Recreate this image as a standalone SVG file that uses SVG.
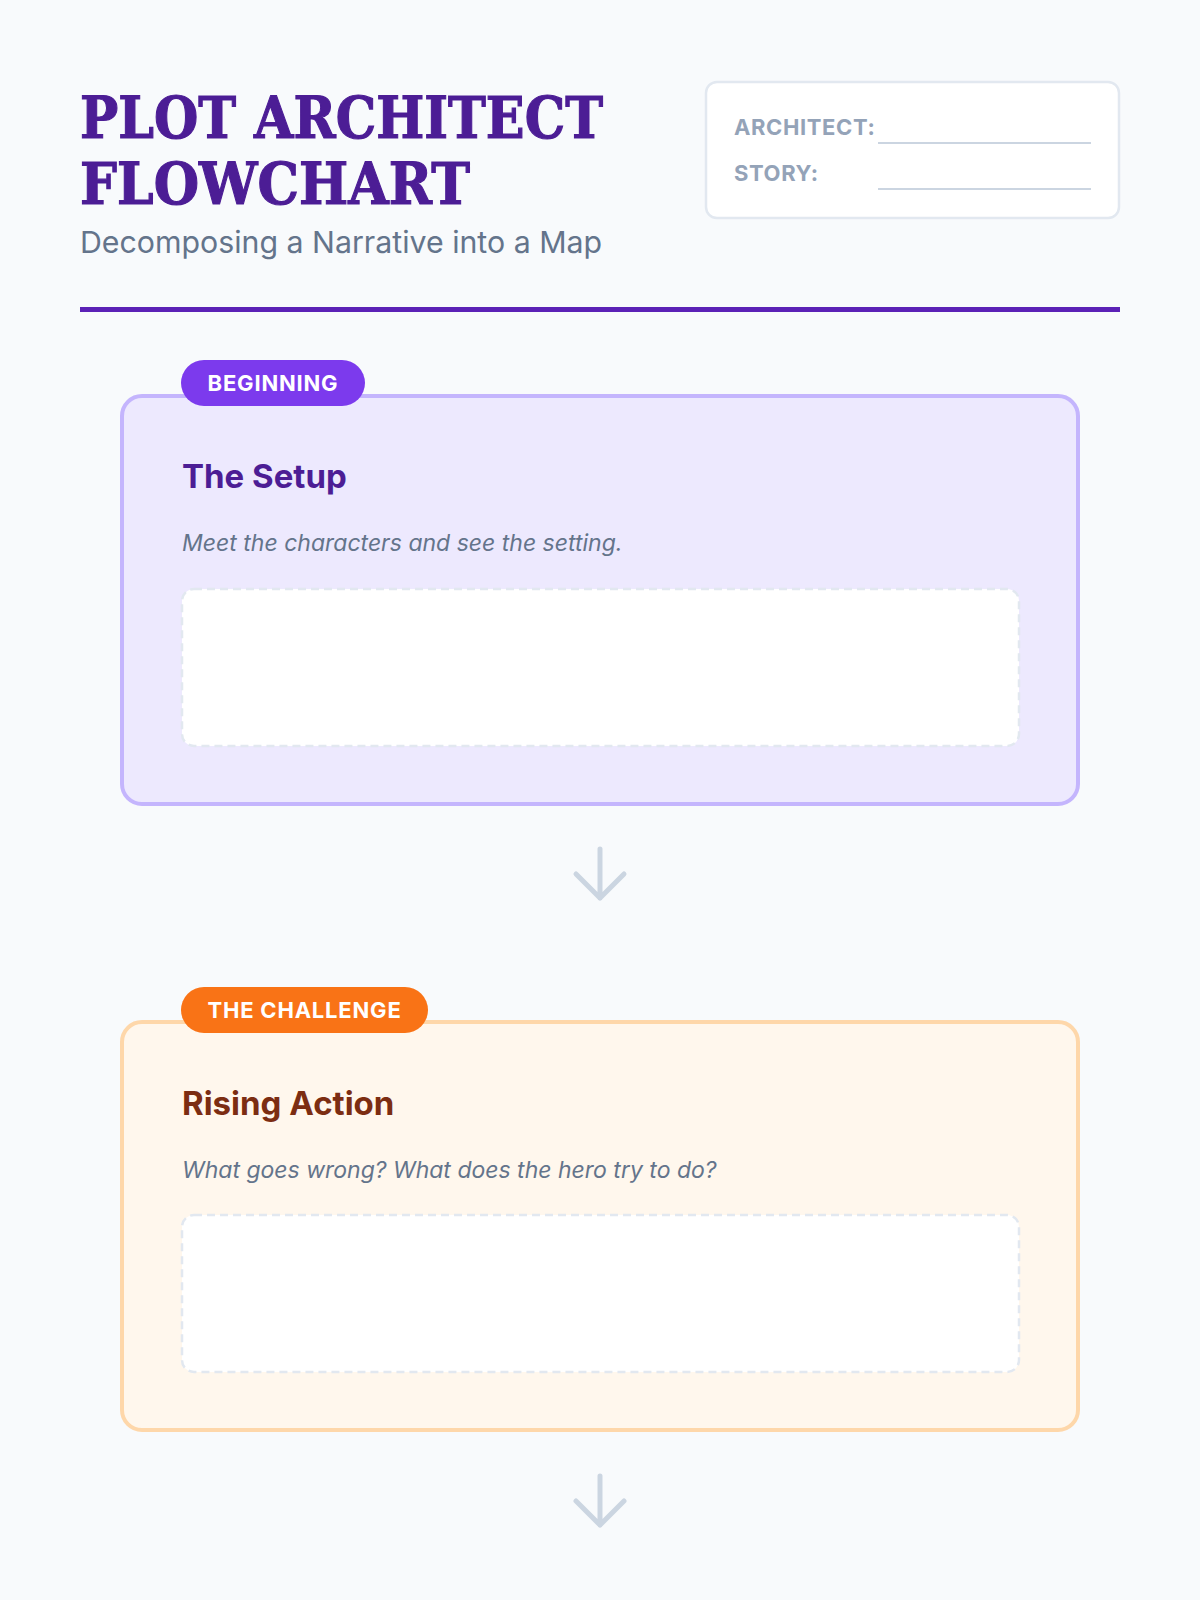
<svg xmlns="http://www.w3.org/2000/svg" width="1200" height="1600" viewBox="0 0 1200 1600">
<style>
.title{font-family:"DejaVu Serif","Liberation Serif",serif;font-weight:bold;font-size:58px;fill:#4c1d95;stroke:#4c1d95;stroke-width:1.2px}
.sub{font-family:Inter,"Noto Sans",sans-serif;font-size:30.3px;fill:#64748b}
.lbl{font-family:Inter,"Noto Sans",sans-serif;font-weight:700;font-size:22px;letter-spacing:0.6px;fill:#94a3b8}
.badge-t{font-family:Inter,"Noto Sans",sans-serif;font-weight:700;font-size:22px;letter-spacing:0.8px;fill:#ffffff}
.head{font-family:Inter,"Noto Sans",sans-serif;font-weight:700;font-size:33px}
.desc{font-family:Inter,"Noto Sans",sans-serif;font-style:italic;font-size:23px;fill:#64748b}
.fill-line{stroke:#cbd5e1;stroke-width:2}
.answer{fill:#ffffff;stroke:#e2e8f0;stroke-width:2.5;stroke-dasharray:8 5}
.arrow{fill:none;stroke:#cbd5e1;stroke-width:5;stroke-linecap:round;stroke-linejoin:round}
</style>
<rect width="1200" height="1600" fill="#f8fafc"/>
<g id="header">
<text class="title" x="80" y="138" textLength="523" lengthAdjust="spacingAndGlyphs">PLOT ARCHITECT</text>
<text class="title" x="80" y="204" textLength="390" lengthAdjust="spacingAndGlyphs">FLOWCHART</text>
<text class="sub" x="80" y="253">Decomposing a Narrative into a Map</text>
<rect x="80" y="307" width="1040" height="5" fill="#5b21b6"/>
</g>
<g id="info-box">
<rect x="706" y="82" width="413" height="136" rx="11" fill="#ffffff" stroke="#e2e8f0" stroke-width="2.5"/>
<text class="lbl" x="734" y="135">ARCHITECT:</text>
<line class="fill-line" x1="878" y1="143" x2="1091" y2="143"/>
<text class="lbl" x="734" y="181">STORY:</text>
<line class="fill-line" x1="878" y1="189" x2="1091" y2="189"/>
</g>
<g id="node-setup">
<rect x="122" y="396" width="956" height="408" rx="20" fill="#ede9fe" stroke="#c4b5fd" stroke-width="4"/>
<rect x="181" y="360" width="184" height="46" rx="23" fill="#7c3aed"/>
<text class="badge-t" x="273" y="391" text-anchor="middle">BEGINNING</text>
<text class="head" x="182" y="488" fill="#4c1d95">The Setup</text>
<text class="desc" x="182" y="551">Meet the characters and see the setting.</text>
<rect class="answer" x="182" y="589" width="837" height="157" rx="12"/>
</g>
<g id="node-rising">
<rect x="122" y="1022" width="956" height="408" rx="20" fill="#fff7ed" stroke="#fed7aa" stroke-width="4"/>
<rect x="181" y="987" width="247" height="46" rx="23" fill="#f97316"/>
<text class="badge-t" x="304.5" y="1018" text-anchor="middle">THE CHALLENGE</text>
<text class="head" x="182" y="1115" fill="#7c2d12">Rising Action</text>
<text class="desc" x="182" y="1178">What goes wrong? What does the hero try to do?</text>
<rect class="answer" x="182" y="1215" width="837" height="157" rx="12"/>
</g>
<g id="connectors">
<path class="arrow" d="M600 849 V898 M576 874 L600 898 L624 874"/>
<path class="arrow" d="M600 1476 V1525 M576 1501 L600 1525 L624 1501"/>
</g>
</svg>
